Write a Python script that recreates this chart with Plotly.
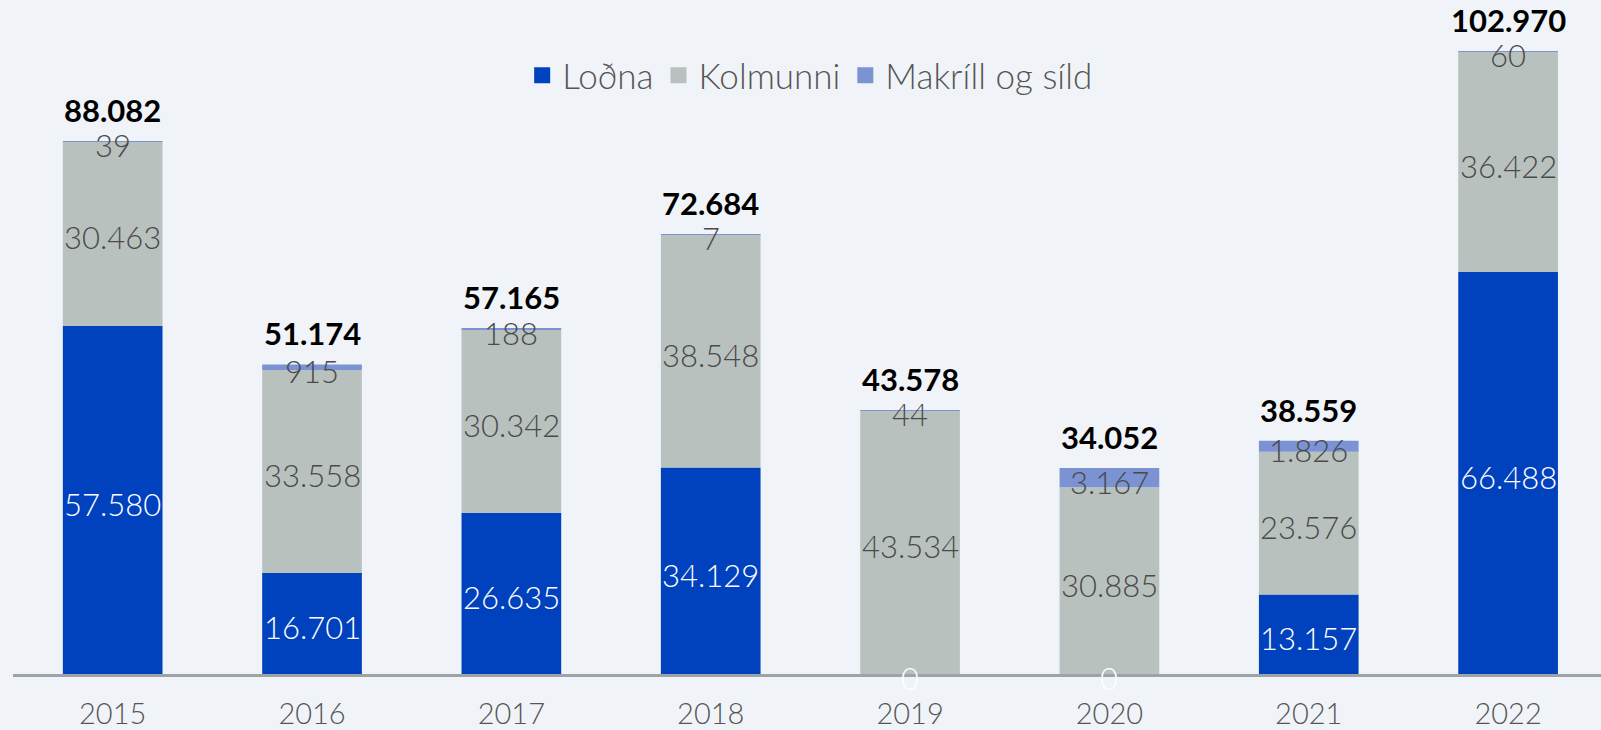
import plotly.graph_objects as go

years = ["2015", "2016", "2017", "2018", "2019", "2020", "2021", "2022"]
lodna = [57580, 16701, 26635, 34129, 0, 0, 13157, 66488]
kolmunni = [30463, 33558, 30342, 38548, 43534, 30885, 23576, 36422]
makrill = [39, 915, 188, 7, 44, 3167, 1826, 60]

series_names = ["Loðna", "Kolmunni", "Makríll og síld"]
colors = ["#0041BE", "#B9C1BF", "#7B93D3"]
label_colors = ["#FFFFFF", "#4A4A4A", "#4A4A4A"]

FONT = "Lato Light, Lato"
FS = 31

xpos = list(range(len(years)))


def fmt(v):
    return f"{v:,}".replace(",", ".")


fig = go.Figure()
series = [lodna, kolmunni, makrill]
base = [0] * len(years)
for name, vals, col, lcol in zip(series_names, series, colors, label_colors):
    fig.add_trace(go.Bar(
        x=xpos, y=vals, base=base, name=name, marker=dict(color=col, line=dict(width=0)),
        width=0.5, showlegend=False, hoverinfo="skip",
    ))
    for xp, b, v in zip(xpos, base, vals):
        fig.add_annotation(
            x=xp, y=b + v / 2, text=fmt(v), showarrow=False, yanchor="middle",
            yshift=-4, font=dict(family=FONT, size=FS, color=lcol, weight=300),
        )
    # legend entry
    fig.add_trace(go.Scatter(
        x=[None], y=[None], mode="markers", name=name,
        marker=dict(symbol="square", size=16, color=col),
    ))
    base = [b + v for b, v in zip(base, vals)]

totals = base
for xp, t in zip(xpos, totals):
    fig.add_annotation(
        x=xp, y=t, text=f"<b>{fmt(t)}</b>", showarrow=False, yanchor="middle",
        yshift=31, font=dict(family="Lato", size=FS, color="#000000"),
    )

fig.update_layout(
    width=1601, height=730,
    margin=dict(l=13, r=0, t=0, b=56),
    paper_bgcolor="#F0F4F8", plot_bgcolor="#F0F4F8",
    barmode="overlay",
    font=dict(family=FONT, size=FS, color="#555555"),
    legend=dict(orientation="h", x=0.502, xanchor="center", y=0.888, yanchor="middle",
                font=dict(family=FONT, size=35, color="#555555", weight=300),
                bgcolor="rgba(0,0,0,0)", itemwidth=30, tracegroupgap=0),
    xaxis=dict(
        range=[-0.5, 7.466], showgrid=False, zeroline=False,
        tickmode="array", tickvals=xpos, ticktext=years,
        showline=True, linecolor="#9EA3A7", linewidth=3, ticks="",
        tickfont=dict(family=FONT, size=29, color="#555555", weight=300),
        ticklabelstandoff=12,
    ),
    yaxis=dict(range=[0, 111400], visible=False, showgrid=False, zeroline=False),
)

fig.write_html("out.html", config={"displayModeBar": False},
               post_script="document.body.style.margin='0';")
